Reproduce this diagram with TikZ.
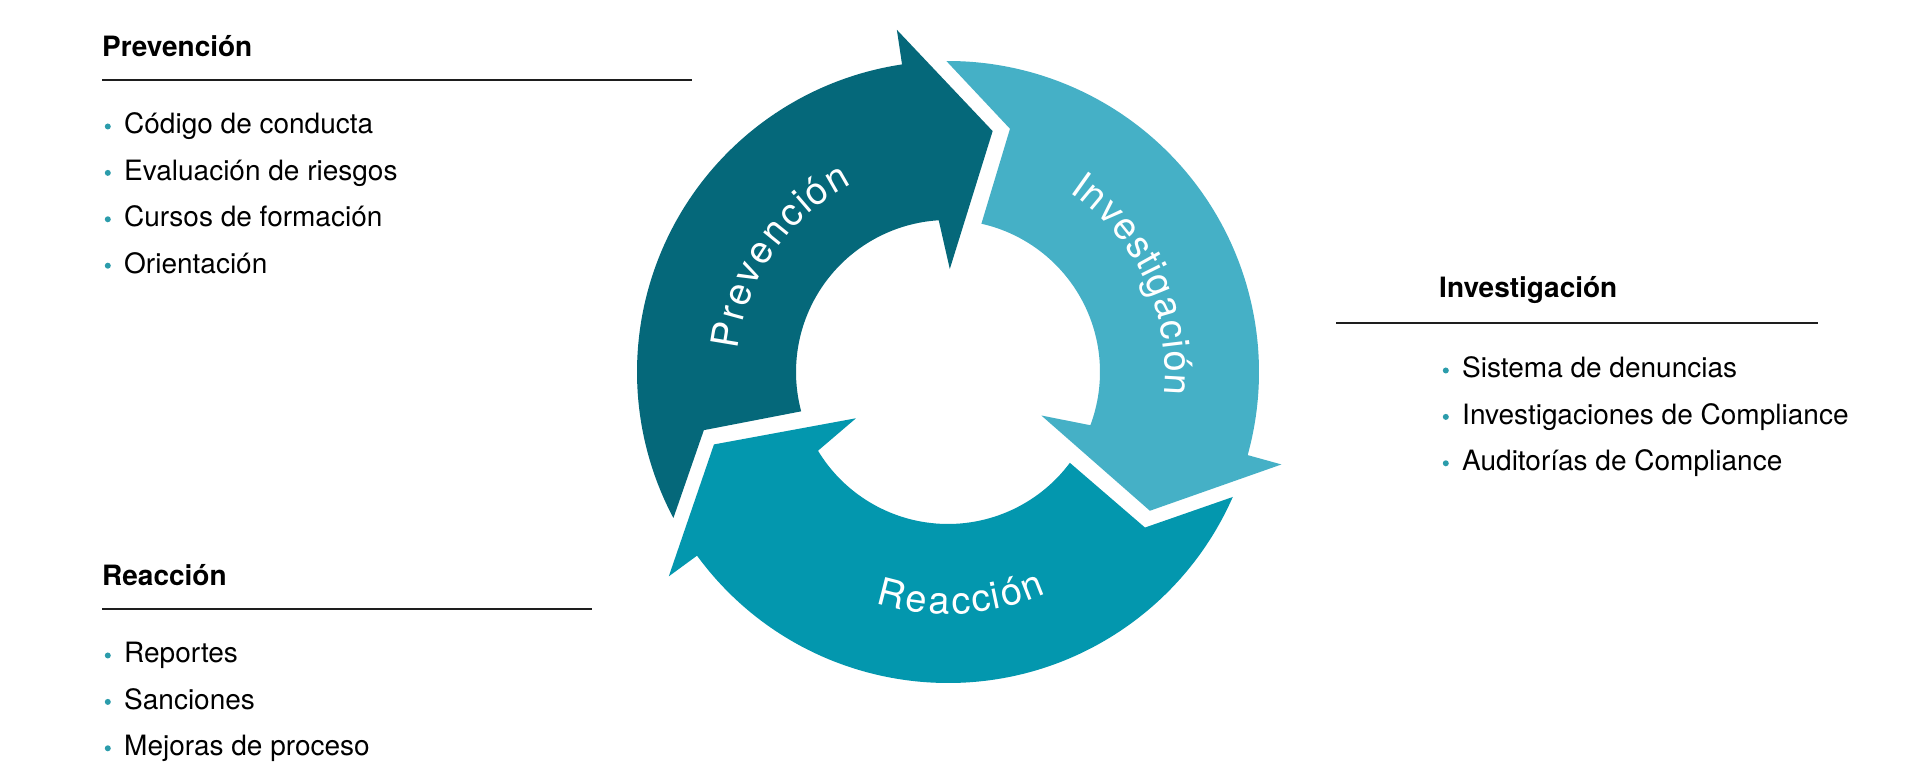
\documentclass[tikz,border=0pt]{standalone}
\usepackage{fontspec}
\setmainfont{TeX Gyre Heros}
\usetikzlibrary{positioning}
\usetikzlibrary{decorations.text}

\definecolor{prevcol}{HTML}{05687A}
\definecolor{reaccol}{HTML}{0397AE}
\definecolor{invcol}{HTML}{45B0C6}
\definecolor{dotcol}{HTML}{2B9CAB}
\definecolor{rulecol}{HTML}{1E1E1E}

\begin{document}
\begin{tikzpicture}[x=1pt, y=1pt]

\tikzstyle{head}=[font=\fontsize{28}{34}\selectfont\bfseries, anchor=base west, inner sep=0pt]
\tikzstyle{dot}=[circle, fill=dotcol, inner sep=0pt, minimum size=6pt]
\tikzstyle{item}=[font=\fontsize{28}{34}\selectfont, anchor=base west, inner sep=0pt, text height=22pt, text depth=7pt, label={[dot, label distance=13pt]left:}]
\tikzstyle{rule}=[draw=rulecol, line width=2pt]
\tikzstyle{ringtext}=[font=\fontsize{38}{44}\selectfont, text=white, anchor=base, inner sep=0pt]

\fill[white] (0,0) rectangle (1920,767);
\useasboundingbox (0,0) rectangle (1920,767);

% the cycle
\begin{scope}[shift={(948,395)}]
\foreach \tip/\tail/\col in {79.5/197.2/prevcol, 197.2/325.5/reaccol, 325.5/439.5/invcol}
  \fill[\col] (\tip:245) -- (\tip+19:346) -- (\tip+19:311)
    arc[start angle=\tip+19, end angle=\tail+10.8, radius=311]
    -- (\tail-3.8:251) -- (\tail-2.2:152)
    arc[start angle=\tail-2.2, end angle=\tip+14, radius=152]
    -- (\tip+9.5:103) -- cycle;

\path[decorate, decoration={text effects along path, text={Prevención},
  text effects/.cd, text along path, fit text to path, characters={ringtext}}]
  (174:211) arc[start angle=174, end angle=117, radius=211];
\path[decorate, decoration={text effects along path, text={Investigación},
  text effects/.cd, text along path, fit text to path, characters={ringtext}}]
  (56:217) arc[start angle=56, end angle=-6, radius=217];
\path[decorate, decoration={text effects along path, text={Reacción},
  text effects/.cd, text along path, fit text to path, characters={ringtext}}]
  (252.5:242) arc[start angle=252.5, end angle=294, radius=242];
\end{scope}

% Prevencion
\node[head] (prevhead) at (102,710) {Prevención};
\draw[rule] ([yshift=-23pt]prevhead.base west) -- ++(590,0);
\node[item] (prevA) at ([shift={(22pt,-77pt)}]prevhead.base west) {Código de conducta};
\node[item, below=17pt of prevA.south west, anchor=north west] (prevB) {Evaluación de riesgos};
\node[item, below=17pt of prevB.south west, anchor=north west] (prevC) {Cursos de formación};
\node[item, below=17pt of prevC.south west, anchor=north west] (prevD) {Orientación};

% Investigacion
\node[head] (invhead) at (1439,469) {Investigación};
\draw[rule] ([shift={(-103pt,-25pt)}]invhead.base west) -- ++(482,0);
\node[item] (invA) at ([shift={(23pt,-80pt)}]invhead.base west) {Sistema de denuncias};
\node[item, below=17pt of invA.south west, anchor=north west] (invB) {Investigaciones de Compliance};
\node[item, below=17pt of invB.south west, anchor=north west] (invC) {Auditorías de Compliance};

% Reaccion
\node[head] (reachead) at (102,181) {Reacción};
\draw[rule] ([yshift=-23pt]reachead.base west) -- ++(490,0);
\node[item] (reacA) at ([shift={(22pt,-77pt)}]reachead.base west) {Reportes};
\node[item, below=17pt of reacA.south west, anchor=north west] (reacB) {Sanciones};
\node[item, below=17pt of reacB.south west, anchor=north west] (reacC) {Mejoras de proceso};

\end{tikzpicture}
\end{document}
